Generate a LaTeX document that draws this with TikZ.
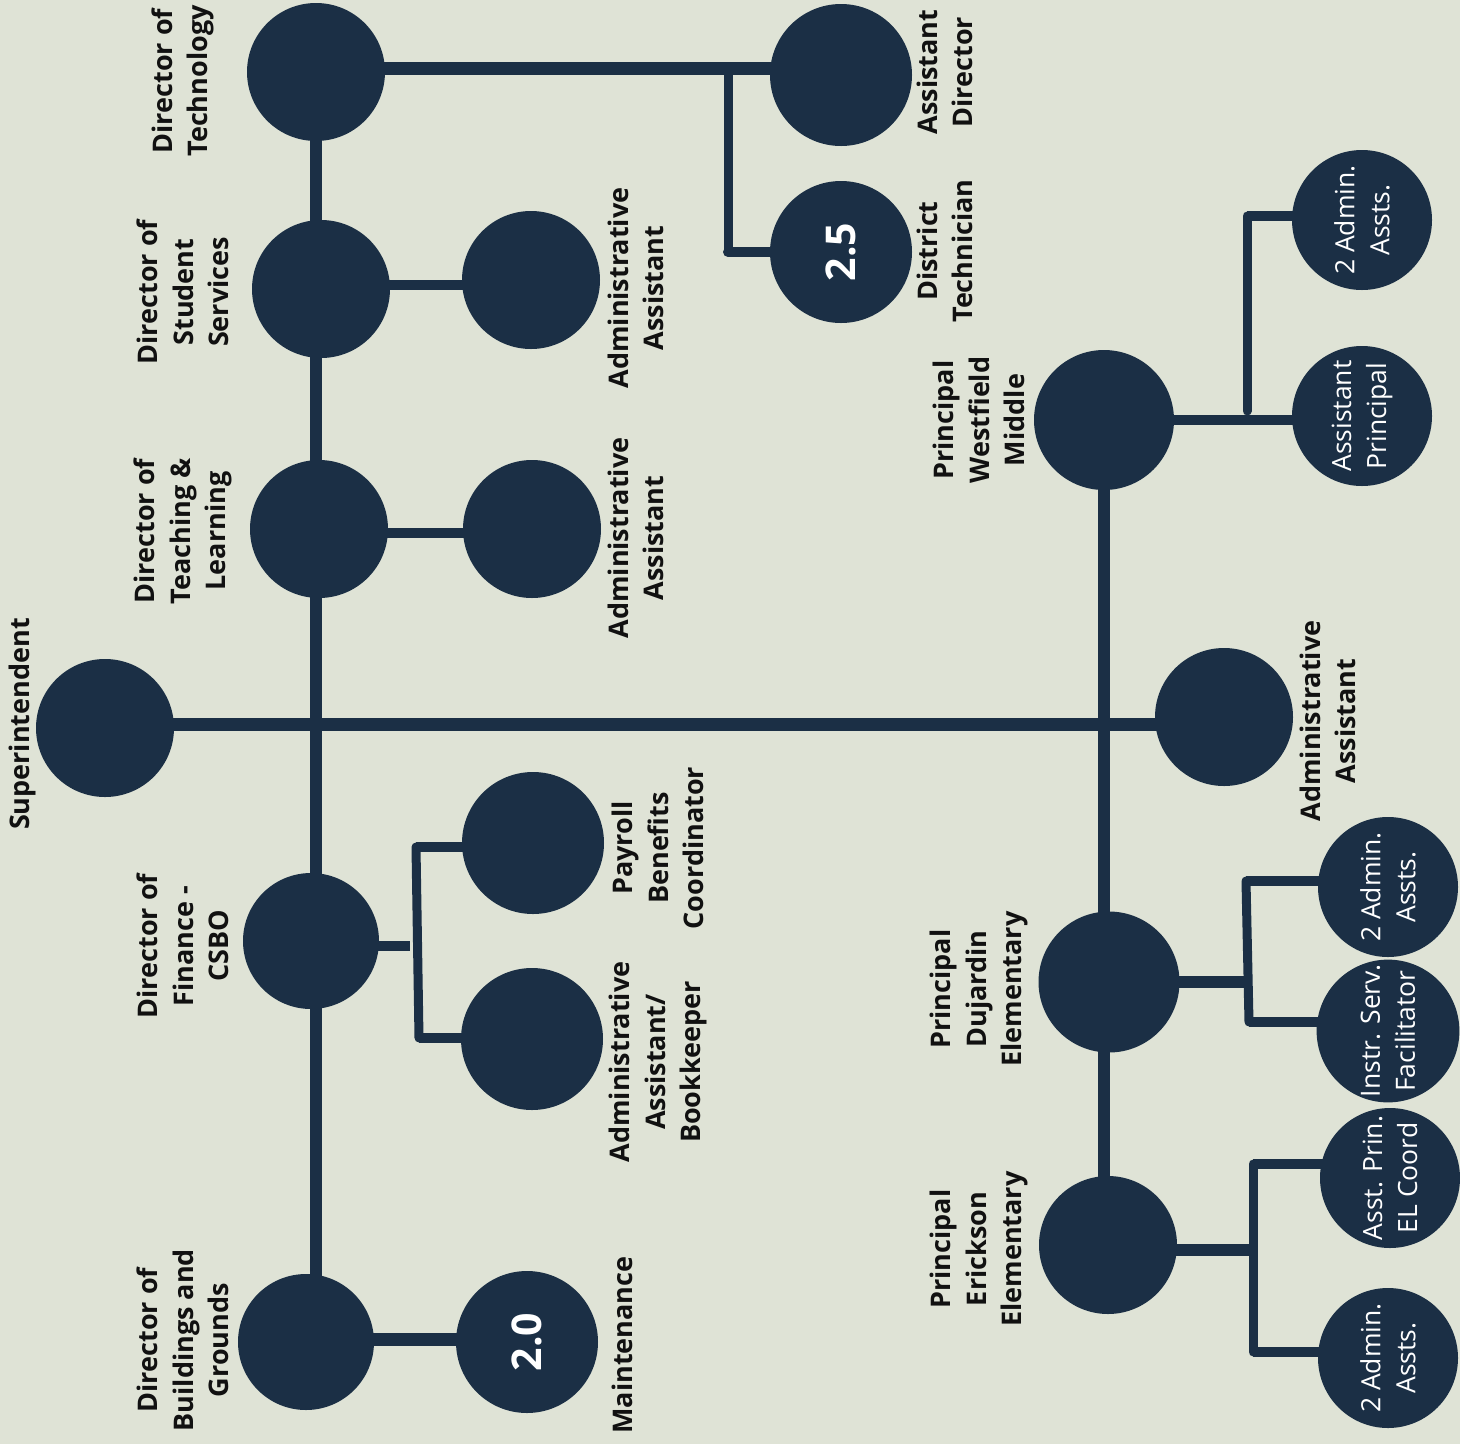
\documentclass[tikz,border=0pt]{standalone}
\usepackage{fontspec}
\setmainfont{Open Sans}
\usetikzlibrary{backgrounds}
\definecolor{bgc}{HTML}{DFE3D6}
\definecolor{navy}{HTML}{1B2F45}
\definecolor{ink}{HTML}{111111}
\tikzset{
  circ/.style={circle, fill=navy, inner sep=0pt, minimum size=#1},
  circ/.default=138pt,
  lab/.style={rotate=90, align=center, text=ink, inner sep=0pt,
    font=\bfseries\fontsize{27}{35.5}\selectfont},
  inlab/.style={rotate=90, align=center, text=white,
    font=\fontsize{26.5}{35}\selectfont},
  numlab/.style={rotate=90, align=center, text=white,
    font=\bfseries\fontsize{41}{46}\selectfont},
  wide/.style={draw=navy, line width=13pt},
  mid/.style={draw=navy, line width=10pt},
  brk/.style={draw=navy, line width=9pt, line cap=round},
}
\begin{document}
\begin{tikzpicture}[x=1pt,y=-1pt]
\useasboundingbox (0,0) rectangle (1460,1444);

% circles
\node[circ] (sup) at (105,728) {};
\node[circ] (dt) at (316,72) {};
\node[circ] (dss) at (321,289) {};
\node[circ] (dtl) at (319,529) {};
\node[circ=136pt] (dfin) at (311,941) {};
\node[circ=136pt] (dbg) at (306,1342) {};
\node[circ] (aa1) at (531,280) {};
\node[circ] (aa2) at (532,529) {};
\node[circ=142pt] (pay) at (533,843) {};
\node[circ=142pt] (book) at (532,1039) {};
\node[circ=142pt, numlab] (mnt) at (527,1342) {2.0};
\node[circ=142pt] (ad) at (841,75) {};
\node[circ=142pt, numlab] (dtech) at (841,252) {2.5};
\node[circ=140pt] (wf) at (1104,420) {};
\node[circ] (aar) at (1224,717) {};
\node[circ=141pt] (dj) at (1109,982) {};
\node[circ] (er) at (1108,1245) {};
\node[circ=140pt, inlab] (wa) at (1362,220) {2 Admin.\\Assts.};
\node[circ=140pt, inlab] (ap) at (1362,416) {Assistant\\Principal};
\node[circ=140pt, inlab] (dja) at (1388,887) {2 Admin.\\Assts.};
\node[circ=140pt, inlab] (isf) at (1388,1031) {Instr. Serv.\\Facilitator};
\node[circ=140pt, inlab] (el) at (1390,1178) {Asst. Prin.\\EL Coord};
\node[circ=140pt, inlab] (ea) at (1388,1358) {2 Admin.\\Assts.};

% junction coordinates
\coordinate (jL) at (316,724);
\coordinate (jR) at (1104,724);
\coordinate (jT) at (728,68);
\coordinate (jT2) at (728,252);
\coordinate (jS) at (400,285);
\coordinate (fS) at (410,946);
\coordinate (fT) at (416,847);
\coordinate (fB) at (419,1038);
\coordinate (wT) at (1247,216);
\coordinate (wB) at (1247,411);
\coordinate (dS) at (1245,982);
\coordinate (dT) at (1246,881);
\coordinate (dB) at (1249,1022);
\coordinate (eS) at (1253,1250);
\coordinate (eT) at (1253,1164);
\coordinate (eB) at (1253,1352);

\begin{pgfonlayer}{background}
\fill[bgc] (0,0) rectangle (1460,1444);
% trunk lines
\draw[wide] (sup.center |- jL) -- (jL) -- (jR) -- (aar.center |- jR);
\draw[mid, line width=12pt] (dt.center) -- (dt.center |- dbg.center);
\draw[mid, line width=12pt] (wf.center) -- (wf.center |- er.center);
% technology
\draw[wide] (dt.center |- jT) -- (ad.center |- jT);
\draw[brk] (jT) -- (jT2);
\draw[mid, line cap=round] (jT2) -- (dtech.center |- jT2);
% directors to assistants
\draw[mid] (dss.center |- jS) -- (aa1.center |- jS);
\draw[mid] (dtl.center |- 0,533) -- (aa2.center |- 0,533);
\draw[mid] (dfin.center |- fS) -- (fS);
\draw[brk] (fT) -- (fB);
\draw[mid] (fT) -- (pay.center |- fT);
\draw[mid] (fB) -- (book.center |- fB);
\draw[wide] (dbg.center |- 0,1339) -- (mnt.center |- 0,1339);
% principals
\draw[mid] (wf.center) -- (ap.center |- wf.center);
\draw[brk] (wT) -- (wB);
\draw[mid] (wT) -- (wa.center |- wT);
\draw[mid, line width=12pt] (dj.center |- dS) -- (dS);
\draw[brk] (dT) -- (dB);
\draw[mid] (dT) -- (dja.center |- dT);
\draw[mid] (dB) -- (isf.center |- dB);
\draw[mid, line width=12pt] (er.center |- eS) -- (eS);
\draw[brk] (eT) -- (eB);
\draw[mid] (eT) -- (el.center |- eT);
\draw[mid] (eB) -- (ea.center |- eB);
\end{pgfonlayer}

% labels
\node[lab] (lsup) at (22,724) {Superintendent};
\node[lab] (ldt) at (183,81) {Director of\\Technology};
\node[lab] (ldss) at (183,292) {Director of\\Student\\Services};
\node[lab] (ldtl) at (183,531) {Director of\\Teaching \&\\Learning};
\node[lab] (ldfin) at (183,946) {Director of\\Finance -\\CSBO};
\node[lab] (ldbg) at (183,1340) {Director of\\Buildings and\\Grounds};
\node[lab] (laa1) at (636,288) {Administrative\\Assistant};
\node[lab] (laa2) at (636,538) {Administrative\\Assistant};
\node[lab] (lpay) at (658,848) {Payroll\\Benefits\\Coordinator};
\node[lab] (lbook) at (658,1062) {Administrative\\Assistant/\\Bookkeeper};
\node[lab] (lmnt) at (622,1345) {Maintenance};
\node[lab] (lad) at (945,72) {Assistant\\Director};
\node[lab] (ldtech) at (945,251) {District\\Technician};
\node[lab] (lwf) at (979,420) {Principal\\Westfield\\Middle};
\node[lab] (laar) at (1328,721) {Administrative\\Assistant};
\node[lab] (ldj) at (979,989) {Principal\\Dujardin\\Elementary};
\node[lab] (ler) at (979,1249) {Principal\\Erickson\\Elementary};
\end{tikzpicture}
\end{document}
